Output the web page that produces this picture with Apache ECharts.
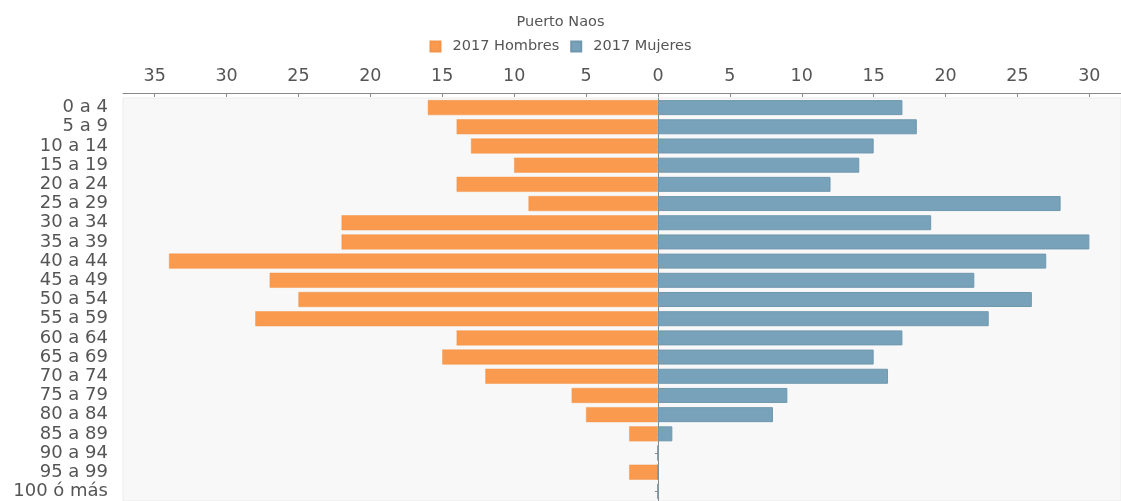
<!DOCTYPE html>
<html>
<head>
<meta charset="utf-8">
<script src="https://cdn.jsdelivr.net/npm/echarts@6/dist/echarts.min.js"></script>
<style>
html,body{margin:0;padding:0;background:#fff;}
#chart{width:1121px;height:501px;}
</style>
</head>
<body>
<div id="chart"></div>
<script>
const categories = ['0 a 4','5 a 9','10 a 14','15 a 19','20 a 24','25 a 29','30 a 34','35 a 39','40 a 44','45 a 49','50 a 54','55 a 59','60 a 64','65 a 69','70 a 74','75 a 79','80 a 84','85 a 89','90 a 94','95 a 99','100 ó más'];
const hombres = [16,14,13,10,14,9,22,22,34,27,25,28,14,15,12,6,5,2,0,2,0];
const mujeres = [17,18,15,14,12,28,19,30,27,22,26,23,17,15,16,9,8,1,0,0,0];
const tickValues = [-35,-30,-25,-20,-15,-10,-5,0,5,10,15,20,25,30];
const seriesNames = ['2017 Hombres','2017 Mujeres'];
const titleText = 'Puerto Naos';

const chart = echarts.init(document.getElementById('chart'));
const font = 'DejaVu Sans';
chart.setOption({
  animation: false,
  backgroundColor: '#ffffff',
  textStyle: {fontFamily: font},
  title: {
    text: titleText, left: 'center', top: 10,
    textStyle: {fontSize: 14.5, fontWeight: 'normal', color: '#555', fontFamily: font}
  },
  legend: {
    top: 34, left: 'center', icon: 'rect', itemWidth: 10, itemHeight: 10, itemGap: 11,
    textStyle: {fontSize: 14.5, color: '#555', fontFamily: font, padding: [0, 0, 0, 7]},
    data: seriesNames
  },
  grid: {left: 123, right: 0, top: 98, height: 407, show: true, backgroundColor: '#f8f8f8', borderColor: '#ececec', borderWidth: 1, containLabel: false},
  xAxis: {
    type: 'value', position: 'top', offset: 5, min: -37.2, max: 32.2,
    axisLine: {show: true, lineStyle: {color: '#8a8a8a', width: 1}},
    axisTick: {show: true, inside: true, length: 4, lineStyle: {color: '#8a8a8a'}, customValues: tickValues},
    axisLabel: {fontSize: 17.5, color: '#555', fontFamily: font, margin: 8, customValues: tickValues,
      formatter: v => String(Math.abs(v))},
    splitLine: {show: false}
  },
  yAxis: {
    type: 'category', inverse: true, data: categories, offset: 5,
    axisLine: {show: true, lineStyle: {color: '#8a8a8a', width: 1}},
    axisTick: {show: true, length: 3, alignWithLabel: true, lineStyle: {color: '#8a8a8a'}},
    axisLabel: {fontSize: 18, color: '#555', fontFamily: font, margin: 10, interval: 0}
  },
  series: [
    {name: seriesNames[0], type: 'bar', barWidth: 15, barGap: '-100%',
     data: hombres.map(v => -v),
     itemStyle: {color: '#f99a4e', borderColor: '#f2944a', borderWidth: 0.5}},
    {name: seriesNames[1], type: 'bar', barWidth: 15, barGap: '-100%',
     data: mujeres,
     itemStyle: {color: '#78a2b9', borderColor: '#6f98ae', borderWidth: 1}}
  ]
});
</script>
</body>
</html>
